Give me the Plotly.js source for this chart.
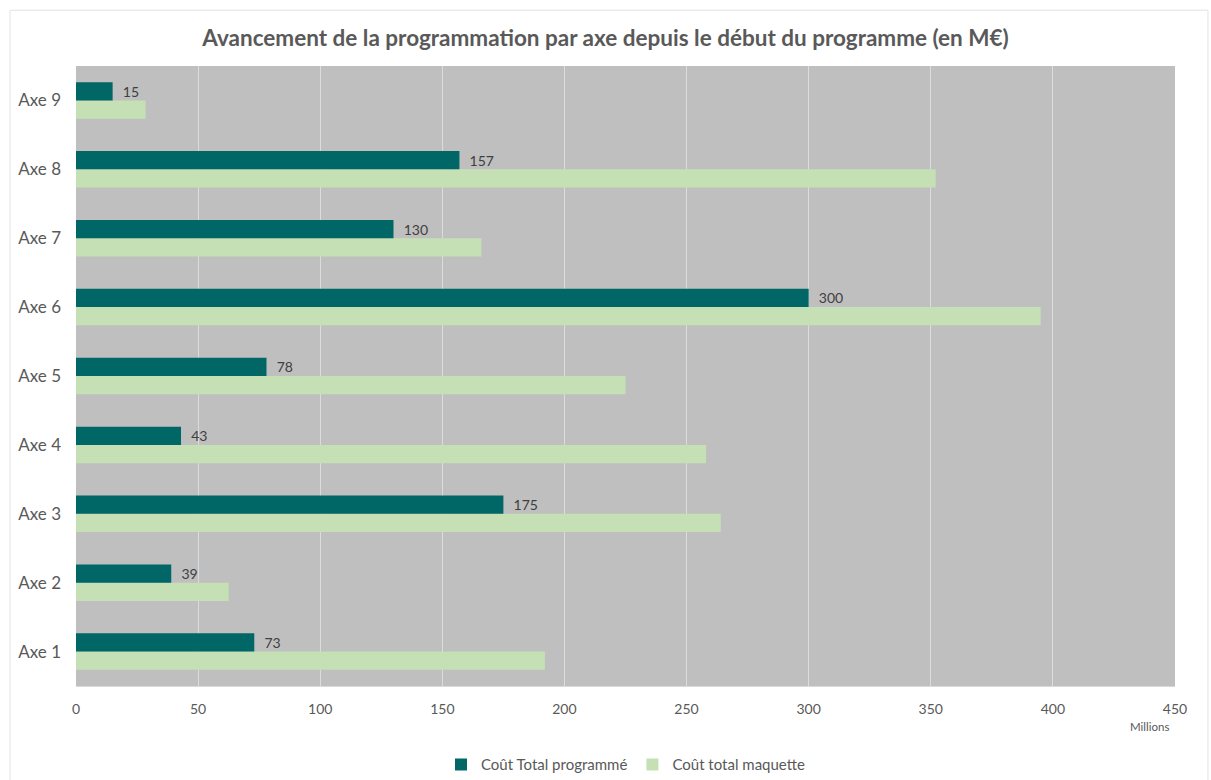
<!DOCTYPE html>
<html><head><meta charset="utf-8">
<script src="https://cdn.plot.ly/plotly-3.0.1.min.js"></script>
<style>html,body{margin:0;padding:0;background:#fff}#c{width:1211px;height:780px}</style>
</head><body><div id="c"></div>
<script>
const categories = ["Axe 1","Axe 2","Axe 3","Axe 4","Axe 5","Axe 6","Axe 7","Axe 8","Axe 9"];
const coutProgramme = [73, 39, 175, 43, 78, 300, 130, 157, 15];
const coutMaquette = [192, 62.5, 264, 258, 225, 395, 166, 352, 28.5];
const xTicks = [0,50,100,150,200,250,300,350,400,450];

const FONT = "Lato, 'Open Sans', sans-serif";
const traces = [
  {type:"bar", orientation:"h", name:"Coût total maquette", y:categories, x:coutMaquette,
   marker:{color:"#C5E0B4"}, legendrank:2, hoverinfo:"x+name"},
  {type:"bar", orientation:"h", name:"Coût Total programmé", y:categories, x:coutProgramme,
   marker:{color:"#006666"}, legendrank:1,
   texttemplate:"  %{x}", textposition:"outside", cliponaxis:false,
   textfont:{family:FONT, size:14, color:"#404040"}, hoverinfo:"x+name"}
];
const layout = {
  width:1211, height:780,
  margin:{l:76, r:36, t:66, b:94, autoexpand:false},
  paper_bgcolor:"#ffffff", plot_bgcolor:"#BFBFBF",
  font:{family:FONT, color:"#595959"},
  title:{text:"<b>Avancement de la programmation par axe depuis le début du programme (en M€)</b>",
         font:{family:FONT, size:22.5, color:"#595959"}, x:0.5, xanchor:"center", y:0.951, yanchor:"middle"},
  barmode:"group", bargap:0.47, bargroupgap:0,
  xaxis:{range:[0,450], tickvals:xTicks, ticktext:xTicks.map(String), showgrid:true, gridcolor:"#DCDCDC", gridwidth:1,
         zeroline:false, showline:true, linecolor:"#D9D9D9", ticks:"", ticklabelstandoff:10,
         tickfont:{family:FONT, size:14, color:"#595959"}, fixedrange:true, automargin:false},
  yaxis:{type:"category", categoryorder:"array", categoryarray:categories, showgrid:false, zeroline:false,
         ticks:"", ticklabelstandoff:14, tickfont:{family:FONT, size:17, color:"#595959"}, fixedrange:true, automargin:false},
  legend:{orientation:"h", x:0.5, xanchor:"center", y:-0.127, yanchor:"middle", bgcolor:"rgba(0,0,0,0)",
          font:{family:FONT, size:15, color:"#595959"}, traceorder:"normal"},
  annotations:[{text:"Millions", xref:"paper", yref:"paper", x:0.977, y:-0.066, xanchor:"center", yanchor:"middle",
                showarrow:false, font:{family:FONT, size:11.5, color:"#595959"}}],
  shapes:[{type:"rect", xref:"paper", yref:"paper", x0:-0.06, x1:1.03, y0:-0.16, y1:1.09,
           line:{color:"#E3E3E3", width:1}, fillcolor:"rgba(0,0,0,0)", layer:"below"}]
};
Plotly.newPlot("c", traces, layout, {displayModeBar:false, staticPlot:true});
</script></body></html>
